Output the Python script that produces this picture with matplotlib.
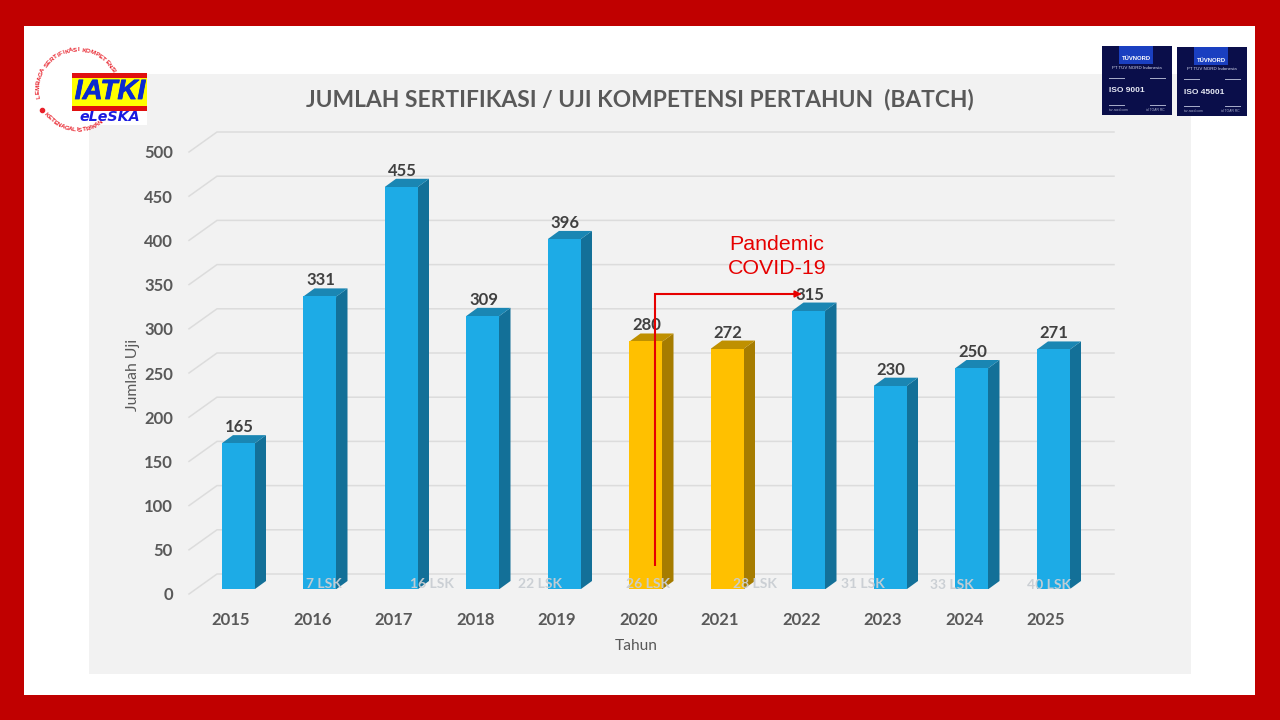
import matplotlib
matplotlib.use("Agg")
import math
import matplotlib.pyplot as plt
import matplotlib.patheffects as pe
from matplotlib.patches import Rectangle, Polygon
from matplotlib.transforms import Affine2D

plt.rcParams['font.family'] = ['Lato', 'DejaVu Sans']

# ---------- data ----------
years = [2015, 2016, 2017, 2018, 2019, 2020, 2021, 2022, 2023, 2024, 2025]
batches = [165, 331, 455, 309, 396, 280, 272, 315, 230, 250, 271]
lsk_labels = ["", "7 LSK", "16 LSK", "22 LSK", "26 LSK", "28 LSK", "31 LSK", "33 LSK", "40 LSK"]
highlight_years = [2020, 2021]
y_ticks = [0, 50, 100, 150, 200, 250, 300, 350, 400, 450, 500]

title = "JUMLAH SERTIFIKASI / UJI KOMPETENSI PERTAHUN  (BATCH)"

# ---------- layout (pixels) ----------
W, H = 1280, 720
DPI = 100
PX_X = 81.5      # pixels per year
PX_Y = 0.884     # pixels per unit
X0_PX = 238.5    # pixel position of first bar centre
Y0_PX = 589      # pixel position of value 0 on bar base
BAR_PX = 33
D_X, D_Y = 11, 8 # bar depth
lsk_px = [None, (324, 584), (432, 584), (540, 584), (648, 584), (755, 584), (863, 584), (952, 585), (1049, 585)]

fig = plt.figure(figsize=(W / DPI, H / DPI), dpi=DPI, facecolor="#c00000")

def axes_px(l, t, r, b, **kw):
    return fig.add_axes([l / W, 1 - b / H, (r - l) / W, (b - t) / H], **kw)

# background layer
bg = fig.add_axes([0, 0, 1, 1], zorder=0)
bg.set_xlim(0, W); bg.set_ylim(H, 0); bg.axis("off")
bg.add_patch(Rectangle((24, 26), 1231, 669, fc="white", ec="none"))
bg.add_patch(Rectangle((89, 74), 1102, 600, fc="#f2f2f2", ec="none"))
bg.add_patch(Rectangle((89, 70), 58, 55, fc="white", ec="none"))

# chart layer
ax = axes_px(190, 132, 1114, Y0_PX, zorder=1)
ax.patch.set_alpha(0)
x_left = years[0] + (190 - X0_PX) / PX_X
x_right = years[0] + (1114 - X0_PX) / PX_X
ax.set_xlim(x_left, x_right)
ax.set_ylim(0, (Y0_PX - 132) / PX_Y)
for s in ax.spines.values():
    s.set_visible(False)

# floor/wall grid, derived from the tick values
GRID = "#dcdcdc"
dx_u = 1 / PX_X
dy_u = 1 / PX_Y
for v in y_ticks:
    back = v + 15 * dy_u
    front = v - 5 * dy_u
    ax.plot([x_left - 1 * dx_u, x_left + 27 * dx_u, x_right], [front, back, back],
            color=GRID, lw=1.1, clip_on=False, zorder=1, solid_joinstyle="miter")

# bars with extruded side and top
bw = BAR_PX * dx_u
for yr, val in zip(years, batches):
    hi = yr in highlight_years
    face, side, top = ("#ffc000", "#a67c00", "#bf9000") if hi else ("#1dabe6", "#137098", "#1a86b3")
    ax.bar(yr, val, width=bw, color=face, zorder=4, linewidth=0)
    l, r = yr - bw / 2, yr + bw / 2
    ddx, ddy = D_X * dx_u, D_Y * dy_u
    ax.add_patch(Polygon([(r - 2 * dx_u, 0), (r, 0), (r + ddx, ddy), (r + ddx, val + ddy), (r, val),
                          (r - 2 * dx_u, val)],
                         fc=side, ec="none", zorder=3, clip_on=False))
    ax.add_patch(Polygon([(l, val - 2 * dy_u), (l, val), (l + ddx, val + ddy), (r + ddx, val + ddy),
                          (r, val), (r, val - 2 * dy_u)],
                         fc=top, ec="none", zorder=3.5, clip_on=False))
    ax.text(yr + 0.8 * dx_u, val + 16 * dy_u, str(val), ha="center", va="center",
            fontsize=12, fontweight="bold", color="#404040", zorder=5)

# ticks
ax.set_xticks(years)
ax.set_xticklabels([str(y) for y in years])
ax.set_yticks(y_ticks)
ax.set_yticklabels([str(v) for v in y_ticks])
ax.tick_params(axis="both", length=0, labelsize=12, labelcolor="#595959")
ax.tick_params(axis="x", pad=23 * 0.72)
ax.tick_params(axis="y", pad=17 * 0.72)
for t in ax.get_xticklabels():
    t.set_fontweight("bold")
    t.set_transform(t.get_transform() + Affine2D().translate(-7.5, 0))
for t in ax.get_yticklabels():
    t.set_fontweight("bold")
    t.set_transform(t.get_transform() + Affine2D().translate(0, -5))

ax.set_xlabel("Tahun", fontsize=11.2, color="#595959")
ax.xaxis.set_label_coords((636 - 190) / 924, -(646 - Y0_PX) / (Y0_PX - 132), transform=ax.transAxes)
ax.xaxis.label.set_va("center")
ax.set_ylabel("Jumlah Uji", fontsize=11.3, color="#595959")
ax.yaxis.set_label_coords((133 - 190) / 924, (Y0_PX - 375) / (Y0_PX - 132), transform=ax.transAxes)
ax.yaxis.label.set_va("center")

# overlay layer in pixel coordinates
ov = fig.add_axes([0, 0, 1, 1], zorder=2)
ov.patch.set_alpha(0)
ov.set_xlim(0, W); ov.set_ylim(H, 0); ov.axis("off")

ov.text(639.5, 100, title, ha="center", va="center", fontsize=16.35, fontweight="bold", color="#595959")

for lab, pos in zip(lsk_labels, lsk_px):
    if pos:
        ov.text(pos[0], pos[1], lab, ha="center", va="center", fontsize=10,
                fontweight="bold", color="#c9ced3", alpha=0.95)

# pandemic annotation
RED = "#e60000"
ov.plot([655, 655, 796], [566, 294, 294], color=RED, lw=1.5, solid_joinstyle="miter", solid_capstyle="butt")
ov.annotate("", xy=(802, 294), xytext=(790, 294),
            arrowprops=dict(arrowstyle="-|>,head_width=0.2,head_length=0.42", color=RED, lw=1.2,
                            shrinkA=0, shrinkB=0))
ov.text(777, 245, "Pandemic", ha="center", va="center", fontsize=15.4, color=RED, family="Liberation Sans")
ov.text(777, 269, "COVID-19", ha="center", va="center", fontsize=15.4, color=RED, family="Liberation Sans")

# logo: circular text
LOGO_RED = "#e8202a"
def char_w(ch):
    if ch == " ":
        return 0.55
    if ch in "IJ":
        return 0.5
    if ch == "M":
        return 1.3
    return 1.0

def arc_text(text, cx, cy, r, a0, a1, flip=False):
    widths = [char_w(c) for c in text]
    total = sum(widths)
    pos = 0.0
    for ch, w in zip(text, widths):
        a = a0 + (a1 - a0) * (pos + w / 2) / total
        pos += w
        rad = math.radians(a)
        x, y = cx + r * math.cos(rad), cy - r * math.sin(rad)
        rot = a + 90 if flip else a - 90
        ov.text(x, y, ch, rotation=rot, rotation_mode="anchor", ha="center", va="center",
                fontsize=4.5, fontweight="bold", color=LOGO_RED, family="Liberation Sans")

arc_text("LEMBAGA SERTIFIKASI KOMPETENSI", 78, 90, 40, 192, 26)
arc_text("KETENAGALISTRIKAN", 78, 90, 40, 215, 308, flip=True)
ov.plot([42], [110], "o", ms=3, color=LOGO_RED)

ov.add_patch(Rectangle((72, 73), 75, 37, fc="#ffff00", ec="none"))
ov.add_patch(Rectangle((72, 73), 75, 4.5, fc="#e01010", ec="none"))
ov.add_patch(Rectangle((72, 106), 75, 4.5, fc="#e01010", ec="none"))
ov.text(110, 92, "IATKI", ha="center", va="center", fontsize=20, fontweight="bold", style="italic",
        color="#0a2ad0", family="Liberation Sans",
        path_effects=[pe.withStroke(linewidth=0.6, foreground="#0a2ad0")])
ov.text(110, 117, "eLeSKA", ha="center", va="center", fontsize=10.3, fontweight="bold", style="italic",
        color="#1a1ae0", family="DejaVu Sans")

# certificate badges
def badge(x, y, label):
    ov.add_patch(Rectangle((x, y), 70, 69, fc="#0a0e4a", ec="none"))
    ov.add_patch(Rectangle((x + 17, y), 34, 18, fc="#1a3fc0", ec="none"))
    ov.text(x + 34, y + 13, "TÜVNORD", ha="center", va="center", fontsize=4.2, fontweight="bold", color="white",
            family="Liberation Sans")
    ov.text(x + 35, y + 22, "PT TÜV NORD Indonesia", ha="center", va="center", fontsize=3.2, color="#d8dcf0",
            family="Liberation Sans")
    ov.plot([x + 7, x + 22], [y + 32, y + 32], color="#aab0cc", lw=0.7)
    ov.plot([x + 48, x + 63], [y + 32, y + 32], color="#aab0cc", lw=0.7)
    ov.text(x + 7, y + 45, label, ha="left", va="center", fontsize=6, fontweight="bold", color="#e8eaf5",
            family="Liberation Sans")
    ov.plot([x + 7, x + 22], [y + 59, y + 59], color="#aab0cc", lw=0.7)
    ov.plot([x + 48, x + 63], [y + 59, y + 59], color="#aab0cc", lw=0.7)
    ov.text(x + 7, y + 64, "tuv-nord.com", ha="left", va="center", fontsize=2.4, color="#aab0cc",
            family="Liberation Sans")
    ov.text(x + 63, y + 64, "id TOAR RC", ha="right", va="center", fontsize=2.4, color="#aab0cc",
            family="Liberation Sans")

badge(1102, 46, "ISO 9001")
badge(1177, 47, "ISO 45001")

fig.savefig("out.png", dpi=DPI, facecolor=fig.get_facecolor())
